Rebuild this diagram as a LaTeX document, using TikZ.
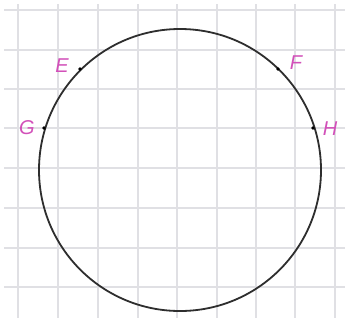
\documentclass[tikz,border=0pt]{standalone}
\usepackage{fontspec}
\setsansfont{Liberation Sans}
\definecolor{gridc}{RGB}{224,224,228}
\definecolor{labc}{RGB}{210,80,185}
\begin{document}
\begin{tikzpicture}[x=1pt,y=-1pt,
  gridline/.style={draw=gridc,line width=1.2pt},
  pt/.style={circle,fill=black,inner sep=0pt,minimum size=3.8pt},
  lab/.style={text=labc,font=\sffamily\itshape\fontsize{20}{20}\selectfont,inner sep=0pt}]
\useasboundingbox (0,0) rectangle (345,322);
\fill[white] (0,0) rectangle (345,322);
\foreach \y in {10,50,89,128,168,208,248,287}
  \draw[gridline] (4,\y) -- (345,\y);
\foreach \x in {18,58,98,138,177,217,256,295,335}
  \draw[gridline] (\x,4) -- (\x,318);
\draw[line width=1.8pt,black!82] (180,170) circle (141);
\node[pt] (E) at (80,69) {};
\node[pt] (F) at (278,69) {};
\node[pt] (G) at (44,128) {};
\node[pt] (H) at (313,128) {};
\node[lab] (lE) at (62,66) {E};
\node[lab] (lF) at (296,63) {F};
\node[lab] (lG) at (27,128) {G};
\node[lab] (lH) at (330,129) {H};
\end{tikzpicture}
\end{document}
